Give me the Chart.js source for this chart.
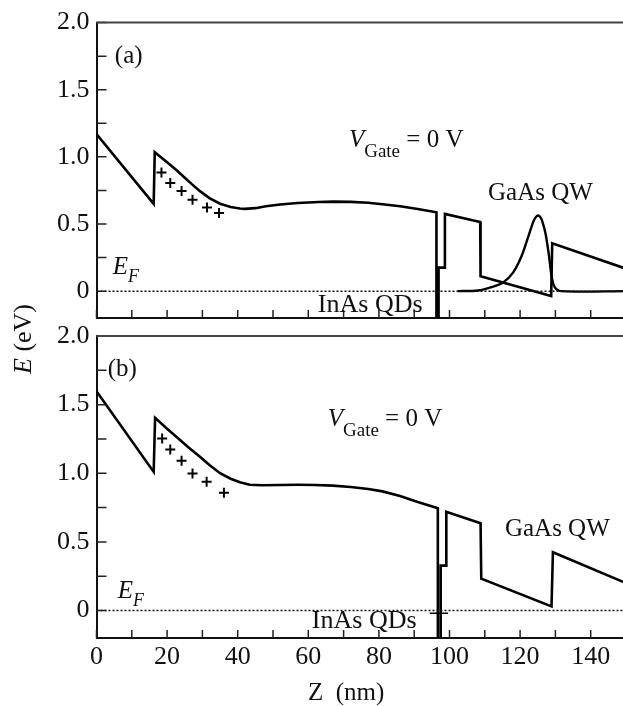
<!DOCTYPE html>
<html>
<head>
<meta charset="utf-8">
<script src="https://cdn.jsdelivr.net/npm/chart.js@4.4.0/dist/chart.umd.min.js"></script>
<style>
  html, body { margin: 0; padding: 0; background: #fff; overflow: hidden; width: 623px; height: 706px; }
  canvas { position: absolute; left: 0; top: 0; }
</style>
</head>
<body>
<canvas id="chart-a" width="640" height="706"></canvas>
<canvas id="chart-b" width="640" height="706"></canvas>
<script>
// ticks
var xTickValues = [0, 10, 20, 30, 40, 50, 60, 70, 80, 90, 100, 110, 120, 130, 140, 150];
var xTickLabels = ['0', '', '20', '', '40', '', '60', '', '80', '', '100', '', '120', '', '140', ''];
var yTickValues = [0, 0.25, 0.5, 0.75, 1.0, 1.25, 1.5, 1.75, 2.0];
var yTickLabels = ['0', '', '0.5', '', '1.0', '', '1.5', '', '2.0'];

// Fermi level
var efZ = [0, 150];
var efE = [0, 0];

// panel (a): conduction band
var bandA_z = [0, 16.2, 16.5, 20, 22.7, 25, 27, 29.3, 32, 35, 38, 40.6, 42, 45, 48, 52, 57, 63, 67, 72, 77, 81, 86, 91, 96.3, 96.3, 96.9, 96.9, 98.7, 98.7, 108.7, 108.8, 128.8, 129.1, 150];
var bandA_e = [1.17, 0.65, 1.035, 0.96, 0.90, 0.845, 0.797, 0.745, 0.693, 0.651, 0.627, 0.616, 0.613, 0.618, 0.632, 0.645, 0.656, 0.664, 0.667, 0.665, 0.658, 0.647, 0.632, 0.612, 0.587, -0.4, -0.4, 0.175, 0.175, 0.575, 0.515, 0.11, -0.037, 0.357, 0.167];
var plusA_z = [18.4, 20.9, 24.1, 27.2, 31.3, 34.7];
var plusA_e = [0.883, 0.805, 0.745, 0.68, 0.623, 0.582];
// QW wavefunction
var waveA_z = [102.3, 108.1, 111.9, 115.2, 118, 120.4, 122.3, 123.7, 124.5, 125.1, 125.7, 126.2, 127.2, 128.2, 128.9, 129.8, 131.7, 150];
var waveA_e = [0, 0.005, 0.03, 0.065, 0.138, 0.26, 0.405, 0.514, 0.553, 0.563, 0.552, 0.527, 0.43, 0.26, 0.114, 0.03, 0, 0];

// panel (b)
var bandB_z = [0, 16.2, 16.6, 20, 22.7, 26, 29.3, 32, 35, 38, 40.6, 43.4, 47, 52, 57, 62, 67, 72, 77, 81, 86, 91, 96.7, 96.7, 97.5, 97.5, 99.1, 99.1, 108.8, 109.0, 128.9, 129.3, 150];
var bandB_e = [1.598, 1.01, 1.404, 1.325, 1.265, 1.19, 1.12, 1.06, 1.0, 0.96, 0.934, 0.916, 0.913, 0.915, 0.916, 0.915, 0.91, 0.90, 0.885, 0.868, 0.835, 0.79, 0.745, -0.4, -0.4, 0.327, 0.327, 0.72, 0.636, 0.232, 0.03, 0.425, 0.2];
var plusB_z = [18.6, 20.9, 24.1, 27.2, 31.2, 36.1];
var plusB_e = [1.254, 1.174, 1.091, 0.999, 0.938, 0.858];
var qdB_z = [94.4, 99.6];
var qdB_e = [-0.02, -0.02];

var SERIF = '"Liberation Serif", "Times New Roman", serif';
Chart.defaults.font.family = SERIF;
Chart.defaults.font.size = 26;
Chart.defaults.color = '#111';

function pts(xs, ys) {
  return xs.map(function (v, i) { return {x: v, y: ys[i]}; });
}

// inward tick marks + top frame line
var frameTicks = {
  id: 'frameTicks',
  afterDatasetsDraw: function (chart) {
    var ctx = chart.ctx, a = chart.chartArea, x = chart.scales.x, y = chart.scales.y;
    ctx.save();
    ctx.strokeStyle = '#222';
    ctx.lineWidth = 1.5;
    ctx.beginPath();
    x.ticks.forEach(function (t) {
      var px = x.getPixelForValue(t.value);
      ctx.moveTo(px, a.bottom); ctx.lineTo(px, a.bottom - 8);
    });
    y.ticks.forEach(function (t) {
      var py = y.getPixelForValue(t.value);
      ctx.moveTo(a.left, py); ctx.lineTo(a.left + 10, py);
    });
    ctx.stroke();
    ctx.strokeStyle = '#444';
    ctx.lineWidth = 2;
    ctx.beginPath();
    ctx.moveTo(a.left, a.top); ctx.lineTo(a.right, a.top);
    ctx.stroke();
    ctx.restore();
  }
};

// text labels placed in data coordinates, drawn piece by piece (sub-scripts)
var notes = {
  id: 'notes',
  afterDraw: function (chart, args, opts) {
    var ctx = chart.ctx, x = chart.scales.x, y = chart.scales.y;
    ctx.save();
    ctx.fillStyle = '#111';
    ctx.textBaseline = 'alphabetic';
    ctx.textAlign = 'left';
    (opts.items || []).forEach(function (it) {
      var px = it.px != null ? it.px : x.getPixelForValue(it.z);
      var py = it.py != null ? it.py : y.getPixelForValue(it.e);
      if (it.rotate) {
        ctx.save();
        ctx.translate(px, py);
        ctx.rotate(-Math.PI / 2);
        px = 0; py = 0;
      }
      it.parts.forEach(function (p) {
        ctx.font = (p.italic ? 'italic ' : '') + (p.size || 25) + 'px ' + SERIF;
        ctx.fillText(p.t, px, py + (p.dy || 0));
        px += ctx.measureText(p.t).width;
      });
      if (it.rotate) ctx.restore();
    });
    ctx.restore();
  }
};

function makeChart(id, padTop, axisHeight, showX, datasets, items) {
  return new Chart(document.getElementById(id), {
    type: 'scatter',
    data: {datasets: datasets},
    options: {
      responsive: false,
      animation: false,
      events: [],
      layout: {padding: {top: padTop, left: 0, right: 14, bottom: 0}},
      plugins: {legend: {display: false}, tooltip: {enabled: false}, notes: {items: items}},
      elements: {point: {radius: 0}, line: {tension: 0}},
      scales: {
        x: {
          type: 'linear', min: 0, max: 150,
          afterBuildTicks: function (s) { s.ticks = xTickValues.map(function (v) { return {value: v}; }); },
          afterFit: function (s) { s.height = axisHeight; },
          grid: {display: false, drawTicks: false},
          border: {display: true, color: '#111', width: 2},
          ticks: {display: showX, autoSkip: false, maxRotation: 0, padding: 4,
                  callback: function (v, i) { return xTickLabels[i]; }}
        },
        y: {
          type: 'linear', min: -0.2, max: 2.0,
          afterBuildTicks: function (s) { s.ticks = yTickValues.map(function (v) { return {value: v}; }); },
          afterFit: function (s) { s.width = 96.5; },
          grid: {display: false, drawTicks: false},
          border: {display: true, color: '#111', width: 2},
          ticks: {padding: 7, callback: function (v, i) { return yTickLabels[i]; }}
        }
      }
    },
    plugins: [frameTicks, notes]
  });
}

function efSet() {
  return {data: pts(efZ, efE), showLine: true, borderColor: '#111', borderWidth: 1.5, borderDash: [2, 2]};
}
function bandSet(z, e) {
  return {data: pts(z, e), showLine: true, borderColor: '#000', borderWidth: 2.6};
}
function plusSet(z, e) {
  return {data: pts(z, e), showLine: false, pointStyle: 'cross', pointRadius: 5, borderColor: '#000', borderWidth: 2};
}

makeChart('chart-a', 16, 388, false, [
  efSet(),
  bandSet(bandA_z, bandA_e),
  {data: pts(waveA_z, waveA_e), showLine: true, borderColor: '#000', borderWidth: 2.4, tension: 0.3},
  plusSet(plusA_z, plusA_e)
], [
  {z: 5.2, e: 1.70, parts: [{t: '(a)'}]},
  {z: 71.5, e: 1.074, parts: [{t: 'V', italic: true}, {t: 'Gate', size: 19, dy: 10}, {t: ' = 0 V'}]},
  {z: 110.9, e: 0.681, parts: [{t: 'GaAs QW'}]},
  {z: 62.7, e: -0.155, parts: [{t: 'InAs QDs', size: 26}]},
  {z: 4.6, e: 0.129, parts: [{t: 'E', italic: true}, {t: 'F', italic: true, size: 18, dy: 8}]},
  {px: 31, py: 374, rotate: true, parts: [{t: 'E', italic: true, size: 26}, {t: ' (eV)', size: 26}]}
]);

makeChart('chart-b', 336, 68, true, [
  efSet(),
  bandSet(bandB_z, bandB_e),
  {data: pts(qdB_z, qdB_e), showLine: true, borderColor: '#000', borderWidth: 1.5},
  plusSet(plusB_z, plusB_e)
], [
  {z: 3.2, e: 1.71, parts: [{t: '(b)'}]},
  {z: 65.5, e: 1.345, parts: [{t: 'V', italic: true}, {t: 'Gate', size: 19, dy: 10}, {t: ' = 0 V'}]},
  {z: 115.7, e: 0.543, parts: [{t: 'GaAs QW'}]},
  {z: 61, e: -0.126, parts: [{t: 'InAs QDs', size: 26}]},
  {z: 6.0, e: 0.092, parts: [{t: 'E', italic: true}, {t: 'F', italic: true, size: 18, dy: 8}]},
  {px: 308, py: 700, parts: [{t: 'Z  (nm)'}]}
]);
</script>
</body>
</html>
